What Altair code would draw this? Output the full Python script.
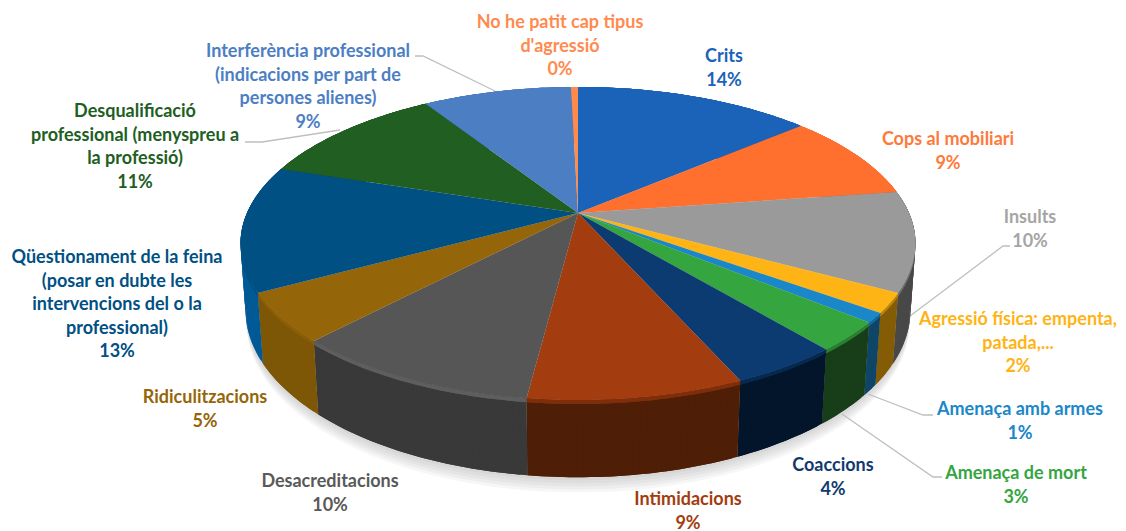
import numpy as np
import pandas as pd
import altair as alt

# ---- data ----
NAMES = ["Crits", "Cops al mobiliari", "Insults", "Agressió física", "Amenaça amb armes",
         "Amenaça de mort", "Coaccions", "Intimidacions", "Desacreditacions", "Ridiculitzacions",
         "Qüestionament", "Desqualificació", "Interferència", "No he patit"]
SHARES = [13.7, 9.0, 10.3, 2.0, 1.0, 3.0, 4.4, 8.6, 10.0, 5.0, 13.0, 11.0, 8.6, 0.4]
TOP_COLORS = ["#1B63B8", "#FF6F2D", "#9A9A9A", "#FFB415", "#1A87C8", "#35A53F", "#0C3B72",
              "#A33C0E", "#565656", "#956509", "#005084", "#215E22", "#4C7EC4", "#FF8A4E"]
RIM_COLORS = ["#1B63B8", "#FF6F2D", "#6E6E6E", "#B9860F", "#15689A", "#2A7F30", "#08294F",
              "#7E2E0A", "#5E5E5E", "#8A5E08", "#005084", "#215E22", "#4C7EC4", "#FF8A4E"]
WALL_COLORS = ["#16508F", "#C9551F", "#484848", "#845C05", "#0F4566", "#173E18", "#02152B",
               "#4E1E06", "#393939", "#7E5706", "#005A96", "#1A4A1B", "#3C659E", "#C96A3A"]
LABELS = [["Crits", "14%"], ["Cops al mobiliari", "9%"], ["Insults", "10%"],
          ["Agressió física: empenta,", "patada,...", "2%"], ["Amenaça amb armes", "1%"],
          ["Amenaça de mort", "3%"], ["Coaccions", "4%"], ["Intimidacions", "9%"],
          ["Desacreditacions", "10%"], ["Ridiculitzacions", "5%"],
          ["Qüestionament de la feina", "(posar en dubte les", "intervencions del o la", "professional)", "13%"],
          ["Desqualificació", "professional (menyspreu a", "la professió)", "11%"],
          ["Interferència professional", "(indicacions per part de", "persones alienes)", "9%"],
          ["No he patit cap tipus", "d'agressió", "0%"]]
TEXT_COLORS = ["#1B63B8", "#FF7A3A", "#A5A5A5", "#FFB415", "#1A87C8", "#35A53F", "#12396F",
               "#A33C0E", "#595959", "#956509", "#005084", "#215E22", "#4C7EC4", "#FF8A4E"]

# ---- layout (picture pixels) ----
LABEL_X = [724, 948, 1030, 1018, 1020, 1016, 833, 688, 330, 205, 117, 135, 308, 560]
LABEL_Y0 = [57, 140, 218, 320, 410, 474, 466, 500, 482, 398, 258, 112, 52, 23]
LINE_STEP = 23.5
LEADERS = [[(1010, 246), (1003, 246), (910, 316)],
           [(933, 415), (923, 415), (868, 394)],
           [(942, 477), (933, 477), (842, 414)],
           [(415, 56), (423, 56), (495, 91)],
           [(245, 142), (262, 142), (340, 130)]]
CX, CY, RX, RY = 578.0, 213.0, 331.0, 150.6
PERSP, DEPTH_W, WALL_H = 0.195, 0.0147, 66.0


def project(ang, z):
    u, v = np.sin(ang), np.cos(ang)
    w = 1 + PERSP * v + DEPTH_W * z
    return CX + RX * u / w, CY + (-RY * v + WALL_H * z) / w


edges = np.radians(np.concatenate([[0], np.cumsum(SHARES)]) * 3.6 * 100 / sum(SHARES))


def arc(a0, a1):
    return np.linspace(a0, a1, max(4, int((a1 - a0) * 60)))


def wedge_frame():
    rows = []
    for i in range(len(SHARES)):
        x, y = project(arc(edges[i], edges[i + 1]), 0.0)
        xs = np.concatenate([[CX], x, [CX]])
        ys = np.concatenate([[CY], y, [CY]])
        for j, (px, py) in enumerate(zip(xs, ys)):
            rows.append({"s": NAMES[i], "o": j, "x": float(px), "y": float(py), "c": TOP_COLORS[i]})
    return pd.DataFrame(rows)


def band_frame(z0, z1, colors):
    """Side surface as overlapping quads, so that the silhouette of the cylinder is covered."""
    rows = []
    for i in range(len(SHARES)):
        a = arc(edges[i], edges[i + 1])
        for k in range(len(a) - 1):
            seg = a[k: min(k + 3, len(a))]
            x0, y0 = project(seg, z0)
            x1, y1 = project(seg[::-1], z1)
            xs = np.concatenate([x0, x1, x0[:1]])
            ys = np.concatenate([y0, y1, y0[:1]])
            for j, (px, py) in enumerate(zip(xs, ys)):
                rows.append({"s": f"{i}-{k}", "o": j, "x": float(px), "y": float(py), "c": colors[i]})
    return pd.DataFrame(rows)


W, H = 1110, 523
X = alt.X("x:Q", scale=alt.Scale(domain=[8, 8 + W], range=[0, W]), axis=None)
Y = alt.Y("y:Q", scale=alt.Scale(domain=[8, 8 + H], range=[0, H]), axis=None)


def polys(df, opacity=1.0):
    return alt.Chart(df).mark_line(filled=True, opacity=opacity, clip=False).encode(
        x=X, y=Y, order="o:Q", detail="s:N", color=alt.Color("c:N", scale=None))


layers = []
# soft shadow below the disc
ring = np.linspace(0, 2 * np.pi, 180)
for z in [1.2, 1.16, 1.12, 1.08, 1.04]:
    sx, sy = project(ring, z)
    layers.append(polys(pd.DataFrame({"s": "shadow", "o": np.arange(180), "x": sx, "y": sy,
                                      "c": "#8A8A8A"}), opacity=0.08))

# leader lines
lead = pd.DataFrame([{"s": k, "o": j, "x": p[0], "y": p[1]}
                     for k, line in enumerate(LEADERS) for j, p in enumerate(line)])
layers.append(alt.Chart(lead).mark_line(color="#BFBFBF", strokeWidth=1.3).encode(
    x=X, y=Y, order="o:Q", detail="s:N"))

# walls, rims, tops
layers.append(polys(band_frame(0.0, 1.0, WALL_COLORS)))
layers.append(polys(band_frame(0.0, 0.05, RIM_COLORS)))
layers.append(polys(wedge_frame()))

# labels
txt = []
for i, lines in enumerate(LABELS):
    for j, t in enumerate(lines):
        txt.append({"t": t, "x": LABEL_X[i], "y": LABEL_Y0[i] + j * LINE_STEP, "c": TEXT_COLORS[i]})
layers.append(alt.Chart(pd.DataFrame(txt)).mark_text(
    font="Lato", fontWeight="bold", fontSize=18, align="center", baseline="middle").encode(
    x=X, y=Y, text="t:N", color=alt.Color("c:N", scale=None)))

chart = alt.layer(*layers).properties(
    width=W, height=H, padding=0, autosize=alt.AutoSizeParams(type="none"), background="white"
).configure_view(stroke=None)
chart.save("out.html", embed_options={"renderer": "svg", "actions": False})
